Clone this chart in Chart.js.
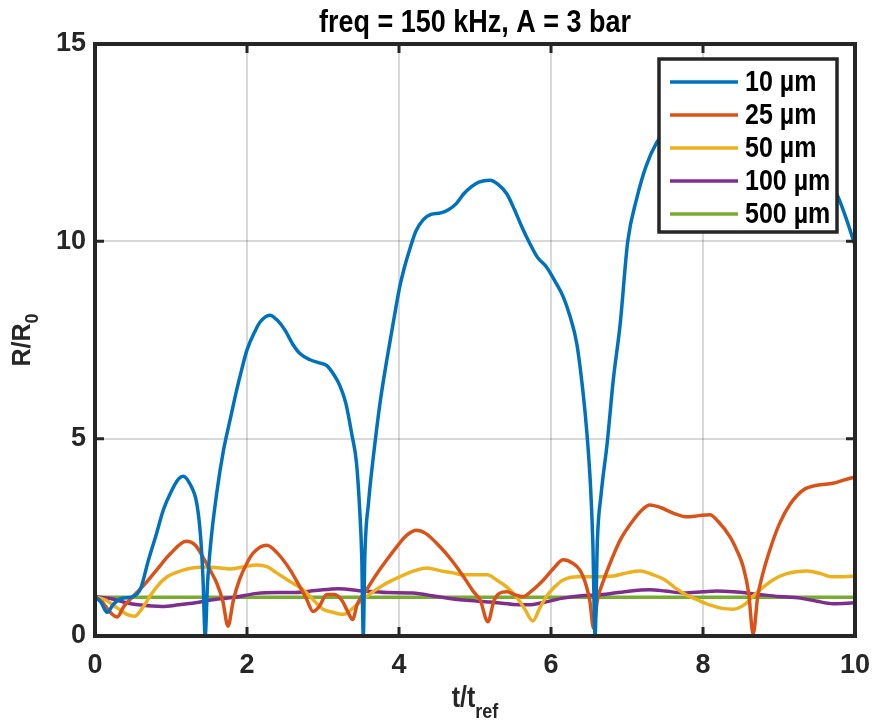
<!DOCTYPE html>
<html>
<head>
<meta charset="utf-8">
<script src="https://cdn.jsdelivr.net/npm/chart.js@4.4.1/dist/chart.umd.min.js"></script>
<style>
  html, body { margin: 0; padding: 0; background: #fff; }
</style>
</head>
<body>
<canvas id="chart" width="874" height="726"></canvas>
<script>
// R/R0 traces, as [t/tref, R/R0] pairs
var r10um = [
  [0, 1.0], [0.08, 0.85], [0.16, 0.6], [0.24, 0.8], [0.35, 0.95], [0.5, 1.0], [0.6, 1.2],
  [0.7, 1.9], [0.81, 2.6], [0.9, 3.2], [1.0, 3.65], [1.1, 3.98], [1.16, 4.05], [1.25, 3.85],
  [1.34, 3.35], [1.39, 2.5], [1.42, 1.5], [1.45, 0], [1.48, 1.3], [1.52, 2.3], [1.6, 3.6],
  [1.69, 4.7], [1.78, 5.5], [1.86, 6.2], [1.93, 6.75], [2.0, 7.25], [2.1, 7.7], [2.17, 7.95],
  [2.3, 8.13], [2.4, 8.0], [2.5, 7.75], [2.6, 7.4], [2.7, 7.15], [2.83, 7.0], [2.95, 6.92],
  [3.05, 6.85], [3.15, 6.6], [3.22, 6.35], [3.3, 5.9], [3.38, 5.1], [3.44, 4.4], [3.48, 3.3],
  [3.51, 2.0], [3.53, 0], [3.55, 2.0], [3.6, 3.4], [3.66, 4.5], [3.75, 5.9], [3.84, 7.0],
  [3.93, 8.0], [4.01, 8.85], [4.08, 9.4], [4.15, 9.85], [4.22, 10.25], [4.32, 10.55],
  [4.42, 10.68], [4.55, 10.72], [4.65, 10.8], [4.75, 10.95], [4.85, 11.2], [4.95, 11.38],
  [5.05, 11.5], [5.2, 11.55], [5.3, 11.45], [5.42, 11.2], [5.52, 10.8], [5.62, 10.35],
  [5.72, 9.95], [5.82, 9.6], [5.94, 9.35], [6.05, 9.0], [6.16, 8.6], [6.25, 8.1], [6.34, 7.4],
  [6.42, 6.2], [6.47, 5.2], [6.52, 3.8], [6.55, 2.4], [6.58, 0], [6.61, 2.4], [6.66, 3.6],
  [6.74, 4.9], [6.82, 6.5], [6.91, 7.9], [7.01, 10.0], [7.13, 11.1], [7.25, 11.9],
  [7.39, 12.5], [7.55, 12.9], [7.75, 13.2], [8.0, 13.35], [8.3, 13.35], [8.6, 13.2],
  [8.9, 12.9], [9.2, 12.5], [9.5, 11.9], [9.76, 11.2], [9.88, 10.6], [10, 9.9]
];
var r25um = [
  [0, 1.0], [0.1, 0.85], [0.2, 0.6], [0.29, 0.48], [0.38, 0.75], [0.5, 1.0], [0.65, 1.3],
  [0.81, 1.67], [1.0, 2.1], [1.2, 2.4], [1.32, 2.3], [1.42, 2.0], [1.52, 1.65], [1.6, 1.35],
  [1.68, 0.9], [1.75, 0.25], [1.82, 0.9], [1.9, 1.42], [2.0, 1.85], [2.08, 2.1], [2.26, 2.3],
  [2.4, 2.1], [2.57, 1.67], [2.68, 1.3], [2.78, 0.95], [2.87, 0.62], [2.95, 0.75],
  [3.05, 1.05], [3.15, 1.05], [3.25, 0.9], [3.33, 0.6], [3.39, 0.42], [3.45, 0.8],
  [3.57, 1.16], [3.7, 1.55], [3.84, 1.93], [3.97, 2.26], [4.1, 2.55], [4.23, 2.68],
  [4.35, 2.6], [4.54, 2.26], [4.7, 1.9], [4.85, 1.5], [4.97, 1.15], [5.07, 0.9], [5.17, 0.36],
  [5.25, 0.9], [5.32, 1.08], [5.42, 1.12], [5.52, 1.05], [5.63, 1.0], [5.75, 1.15],
  [5.9, 1.42], [6.05, 1.75], [6.16, 1.93], [6.28, 1.85], [6.38, 1.67], [6.46, 1.3],
  [6.51, 0.9], [6.56, 0.2], [6.61, 0.9], [6.7, 1.45], [6.8, 1.95], [6.91, 2.43], [7.05, 2.85],
  [7.2, 3.2], [7.3, 3.32], [7.45, 3.25], [7.6, 3.12], [7.79, 3.02], [7.95, 3.05], [8.09, 3.07],
  [8.2, 2.9], [8.36, 2.5], [8.45, 2.15], [8.53, 1.75], [8.6, 1.1], [8.66, 0.05], [8.72, 1.0],
  [8.79, 1.6], [8.9, 2.3], [9.01, 2.86], [9.15, 3.35], [9.32, 3.7], [9.5, 3.82], [9.71, 3.87],
  [9.85, 3.95], [10, 4.03]
];
var r50um = [
  [0, 1.0], [0.15, 0.9], [0.3, 0.7], [0.42, 0.55], [0.52, 0.5], [0.62, 0.7], [0.72, 1.0],
  [0.81, 1.24], [0.95, 1.5], [1.16, 1.67], [1.3, 1.73], [1.47, 1.75], [1.62, 1.73],
  [1.78, 1.7], [1.95, 1.75], [2.13, 1.8], [2.27, 1.75], [2.39, 1.6], [2.55, 1.4], [2.74, 1.17],
  [2.88, 0.9], [3.0, 0.68], [3.13, 0.6], [3.27, 0.55], [3.42, 0.75], [3.57, 1.0], [3.8, 1.3],
  [4.01, 1.5], [4.2, 1.65], [4.37, 1.72], [4.55, 1.65], [4.71, 1.6], [4.85, 1.55], [5.0, 1.55],
  [5.16, 1.55], [5.3, 1.4], [5.42, 1.24], [5.55, 0.98], [5.65, 0.7], [5.76, 0.38], [5.85, 0.7],
  [5.94, 1.0], [6.05, 1.25], [6.16, 1.42], [6.35, 1.5], [6.6, 1.5], [6.82, 1.52], [7.0, 1.6],
  [7.17, 1.65], [7.35, 1.55], [7.5, 1.42], [7.65, 1.2], [7.8, 1.02], [7.92, 0.92], [8.1, 0.78],
  [8.25, 0.7], [8.4, 0.68], [8.55, 0.8], [8.68, 1.05], [8.8, 1.25], [8.92, 1.42], [9.1, 1.58],
  [9.37, 1.65], [9.55, 1.58], [9.7, 1.5], [9.85, 1.5], [10, 1.52]
];
var r100um = [
  [0, 1.0], [0.2, 0.95], [0.4, 0.85], [0.57, 0.79], [0.75, 0.76], [0.88, 0.75], [1.1, 0.79],
  [1.32, 0.84], [1.55, 0.92], [1.84, 0.98], [2.13, 1.08], [2.4, 1.1], [2.6, 1.1], [2.9, 1.15],
  [3.2, 1.2], [3.53, 1.14], [3.85, 1.1], [4.18, 1.09], [4.5, 1.0], [4.85, 0.91], [5.2, 0.86],
  [5.5, 0.8], [5.7, 0.79], [5.9, 0.85], [6.16, 0.96], [6.4, 1.02], [6.64, 1.04], [7.0, 1.13],
  [7.3, 1.17], [7.5, 1.14], [7.74, 1.09], [8.0, 1.12], [8.18, 1.14], [8.4, 1.12], [8.71, 1.06],
  [9.0, 1.0], [9.28, 0.96], [9.5, 0.88], [9.71, 0.82], [10, 0.84]
];
var r500um = [
  [0, 0.98], [2, 0.98], [4, 0.98], [6, 0.98], [8, 0.98], [10, 0.98]
];

var seriesLabels = ['10 µm', '25 µm', '50 µm', '100 µm', '500 µm'];
var seriesColors = ['#0072BD', '#D95319', '#EDB120', '#7E2F8E', '#77AC30'];
var seriesData = [r10um, r25um, r50um, r100um, r500um];

var xTicks = [0, 2, 4, 6, 8, 10];
var yTicks = [0, 5, 10, 15];
var titleText = 'freq = 150 kHz, A = 3 bar';

var FONT = "'Liberation Sans', Arial, sans-serif";
var STRETCH = 1.15; // the original font is taller than it is wide

function toPoints(arr) {
  return arr.map(function(p) { return { x: p[0], y: p[1] }; });
}

function tallText(ctx, text, x, y) {
  ctx.save();
  ctx.translate(x, y);
  ctx.scale(1, STRETCH);
  ctx.fillText(text, 0, 0);
  ctx.restore();
}

// MATLAB-style box, inward ticks, opaque legend, title and subscripted axis labels
var matlabBox = {
  id: 'matlabBox',
  afterDraw: function(chart) {
    var ctx = chart.ctx, a = chart.chartArea;
    var xs = chart.scales.x, ys = chart.scales.y;
    ctx.save();
    ctx.strokeStyle = '#262626';
    ctx.lineWidth = 3;
    ctx.beginPath();
    xs.ticks.forEach(function(t) {
      var px = xs.getPixelForValue(t.value);
      ctx.moveTo(px, a.bottom); ctx.lineTo(px, a.bottom - 9);
      ctx.moveTo(px, a.top); ctx.lineTo(px, a.top + 9);
    });
    ys.ticks.forEach(function(t) {
      var py = ys.getPixelForValue(t.value);
      ctx.moveTo(a.left, py); ctx.lineTo(a.left + 9, py);
      ctx.moveTo(a.right, py); ctx.lineTo(a.right - 9, py);
    });
    ctx.stroke();

    // legend
    var lw = 178, lh = 173;
    var lx = a.right - 18 - lw, ly = a.top + 15;
    ctx.fillStyle = '#fff';
    ctx.fillRect(lx, ly, lw, lh);
    ctx.font = 'bold 25px ' + FONT;
    ctx.textBaseline = 'middle';
    ctx.textAlign = 'left';
    chart.data.datasets.forEach(function(ds, i) {
      var cy = ly + 23 + i * 33;
      ctx.strokeStyle = ds.borderColor;
      ctx.lineWidth = 3.5;
      ctx.beginPath();
      ctx.moveTo(lx + 11, cy); ctx.lineTo(lx + 79, cy);
      ctx.stroke();
      ctx.fillStyle = '#000';
      tallText(ctx, ds.label, lx + 86, cy + 1);
    });
    ctx.strokeStyle = '#262626';
    ctx.lineWidth = 3.5;
    ctx.strokeRect(lx, ly, lw, lh);

    // frame
    ctx.lineWidth = 4;
    ctx.strokeRect(a.left, a.top, a.right - a.left, a.bottom - a.top);

    // title, centred over the plot box
    ctx.fillStyle = '#000';
    ctx.textAlign = 'center';
    ctx.font = 'bold 27px ' + FONT;
    tallText(ctx, titleText, (a.left + a.right) / 2, 23);

    // axis titles with subscripts
    ctx.fillStyle = '#262626';
    ctx.textAlign = 'left';
    ctx.textBaseline = 'alphabetic';
    var big = 'bold 25px ' + FONT, small = 'bold 18px ' + FONT;
    ctx.font = big; var w1 = ctx.measureText('t/t').width;
    ctx.font = small; var w2 = ctx.measureText('ref').width;
    var cx = (a.left + a.right) / 2 - (w1 + w2) / 2;
    ctx.font = big; tallText(ctx, 't/t', cx, 707);
    ctx.font = small; tallText(ctx, 'ref', cx + w1, 718);

    ctx.translate(30, (a.top + a.bottom) / 2);
    ctx.rotate(-Math.PI / 2);
    ctx.font = big; var w3 = ctx.measureText('R/R').width;
    ctx.font = small; var w4 = ctx.measureText('0').width;
    var sx = -(w3 + w4) / 2;
    ctx.font = big; ctx.fillText('R/R', sx, 0);
    ctx.font = small; ctx.fillText('0', sx + w3, 8);
    ctx.restore();
  }
};

var ctx = document.getElementById('chart').getContext('2d');
var chart = new Chart(ctx, {
  type: 'line',
  data: {
    datasets: seriesData.map(function(d, i) {
      return {
        label: seriesLabels[i],
        data: toPoints(d),
        borderColor: seriesColors[i],
        borderWidth: 3.5,
        pointRadius: 0,
        fill: false,
        cubicInterpolationMode: 'monotone'
      };
    })
  },
  options: {
    responsive: false,
    animation: false,
    layout: { padding: { top: 44, right: 19, left: 0, bottom: 0 } },
    plugins: {
      legend: { display: false },
      tooltip: { enabled: false },
      title: { display: false }
    },
    scales: {
      x: {
        type: 'linear',
        min: 0, max: 10,
        afterBuildTicks: function(s) { s.ticks = xTicks.map(function(v) { return { value: v }; }); },
        afterFit: function(s) { s.height = 90; s.paddingLeft = 0; s.paddingRight = 0; },
        grid: { color: 'rgba(0,0,0,0.15)', lineWidth: 2, drawTicks: false },
        border: { display: false },
        ticks: { color: '#262626', padding: 13, maxRotation: 0, font: { family: FONT, size: 27, weight: 'bold' } }
      },
      y: {
        type: 'linear',
        min: 0, max: 15,
        afterBuildTicks: function(s) { s.ticks = yTicks.map(function(v) { return { value: v }; }); },
        afterFit: function(s) { s.width = 95; s.paddingTop = 0; s.paddingBottom = 0; },
        grid: { color: 'rgba(0,0,0,0.15)', lineWidth: 2, drawTicks: false },
        border: { display: false },
        ticks: { color: '#262626', padding: 9, font: { family: FONT, size: 27, weight: 'bold' } }
      }
    }
  },
  plugins: [matlabBox]
});
</script>
</body>
</html>
